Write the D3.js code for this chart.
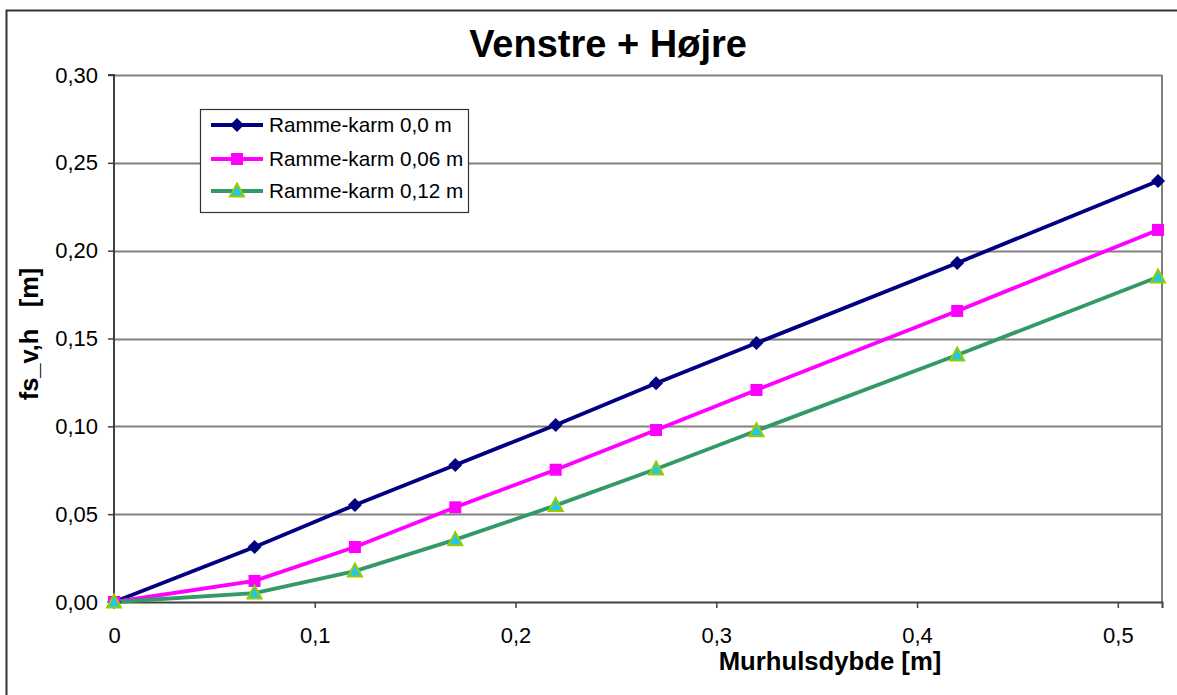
<!DOCTYPE html>
<html><head><meta charset="utf-8">
<script src="https://cdn.jsdelivr.net/npm/d3@7"></script>
<style>body{margin:0;background:#fff}svg{display:block;font-family:"Liberation Sans",Arial,sans-serif}</style>
</head><body>
<svg id="c" width="1177" height="695"></svg>
<script>
const xValues = [0, 0.07, 0.12, 0.17, 0.22, 0.27, 0.32, 0.42, 0.52];
const series0 = [0, 0.0313, 0.0552, 0.078, 0.1008, 0.1245, 0.1474, 0.193, 0.2397];
const series06 = [0, 0.012, 0.0313, 0.0539, 0.0753, 0.0979, 0.1207, 0.1657, 0.2118];
const series12 = [0, 0.0051, 0.0176, 0.0355, 0.0550, 0.0757, 0.0975, 0.1406, 0.185];
const seriesNames = ["Ramme-karm 0,0 m", "Ramme-karm 0,06 m", "Ramme-karm 0,12 m"];
const xTicks = [0, 0.1, 0.2, 0.3, 0.4, 0.5];
const xTickLabels = ["0", "0,1", "0,2", "0,3", "0,4", "0,5"];
const yTicks = [0, 0.05, 0.10, 0.15, 0.20, 0.25, 0.30];
const yTickLabels = ["0,00", "0,05", "0,10", "0,15", "0,20", "0,25", "0,30"];

const svg = d3.select("#c");
const L = 114, R = 1162, T = 75, B = 602;
const x = d3.scaleLinear().domain([0, 0.522]).range([L, R]);
const y = d3.scaleLinear().domain([0, 0.30]).range([B, T]);

// outer chart border
svg.append("rect").attr("x", 6.5).attr("y", 10.5).attr("width", 1200).attr("height", 700)
  .attr("fill", "none").attr("stroke", "#333").attr("stroke-width", 2);

// gridlines
svg.append("g").selectAll("line").data(yTicks.slice(1)).join("line")
  .attr("x1", L).attr("x2", R).attr("y1", d => Math.round(y(d)) + 0.5).attr("y2", d => Math.round(y(d)) + 0.5)
  .attr("stroke", "#808080").attr("stroke-width", 2);
// right border
svg.append("line").attr("x1", R).attr("x2", R).attr("y1", T).attr("y2", B)
  .attr("stroke", "#808080").attr("stroke-width", 2);

// axes
const yAxis = d3.axisLeft(y).tickValues(yTicks).tickFormat((d, i) => yTickLabels[i]).tickSize(6).tickPadding(10);
const gy = svg.append("g").attr("transform", `translate(${L},0)`).call(yAxis);
const xAxis = d3.axisBottom(x).tickValues(xTicks).tickFormat((d, i) => xTickLabels[i]).tickSize(6).tickPadding(19);
const gx = svg.append("g").attr("transform", `translate(0,${B})`).call(xAxis);
[gx, gy].forEach(g => {
  g.select(".domain").attr("stroke", "#404040").attr("stroke-width", 2);
  g.selectAll(".tick line").attr("stroke", "#404040").attr("stroke-width", 1.5);
  g.selectAll(".tick text").attr("font-size", 22).attr("fill", "#000").attr("font-family", "Liberation Sans, Arial, sans-serif");
});
gy.select(".domain").attr("d", `M-6,${T}H0V${B}H-6`);

// series
const sets = [
  {vals: series0, color: "#000080", shape: "diamond"},
  {vals: series06, color: "#FF00FF", shape: "square"},
  {vals: series12, color: "#339966", shape: "triangle"}
];
const line = d3.line().x(d => x(d[0])).y(d => y(d[1]));
function marker(g, s, cx, cy) {
  if (s.shape === "diamond") {
    g.append("path").attr("d", `M${cx},${cy - 7}L${cx + 7},${cy}L${cx},${cy + 7}L${cx - 7},${cy}Z`)
      .attr("fill", "#000080");
  } else if (s.shape === "square") {
    g.append("rect").attr("x", cx - 6).attr("y", cy - 6).attr("width", 12).attr("height", 12).attr("fill", "#FF00FF");
  } else {
    g.append("path").attr("d", `M${cx},${cy - 7.5}L${cx + 7},${cy + 5.5}L${cx - 7},${cy + 5.5}Z`)
      .attr("fill", "#1EC8E8").attr("stroke", "#99CC00").attr("stroke-width", 2);
  }
}
sets.forEach(s => {
  const pts = xValues.map((xv, i) => [xv, s.vals[i]]);
  svg.append("path").attr("d", line(pts)).attr("fill", "none").attr("stroke", s.color).attr("stroke-width", 3.8);
});
sets.forEach(s => {
  const g = svg.append("g");
  xValues.forEach((xv, i) => marker(g, s, x(xv), y(s.vals[i])));
});

// title
svg.append("text").attr("x", 608).attr("y", 57).attr("text-anchor", "middle")
  .attr("font-size", 38).attr("font-weight", "bold").text("Venstre + Højre");
// axis titles
svg.append("text").attr("x", 830).attr("y", 670).attr("text-anchor", "middle")
  .attr("font-size", 25.7).attr("font-weight", "bold").text("Murhulsdybde [m]");
svg.append("text").attr("transform", "translate(38,334) rotate(-90)").attr("text-anchor", "middle")
  .attr("font-size", 25.5).attr("font-weight", "bold").attr("xml:space", "preserve").text("fs_v,h   [m]");

// legend
const lg = svg.append("g");
lg.append("rect").attr("x", 200.5).attr("y", 109.5).attr("width", 268).attr("height", 103)
  .attr("fill", "#fff").attr("stroke", "#333").attr("stroke-width", 1.2);
const rowsY = [125, 159, 191];
sets.forEach((s, i) => {
  lg.append("line").attr("x1", 211).attr("x2", 263).attr("y1", rowsY[i]).attr("y2", rowsY[i])
    .attr("stroke", s.color).attr("stroke-width", 3.8);
  marker(lg, s, 237, rowsY[i]);
  lg.append("text").attr("x", 269).attr("y", rowsY[i] + 7).attr("font-size", 20.7).text(seriesNames[i]);
});
</script>
</body></html>
